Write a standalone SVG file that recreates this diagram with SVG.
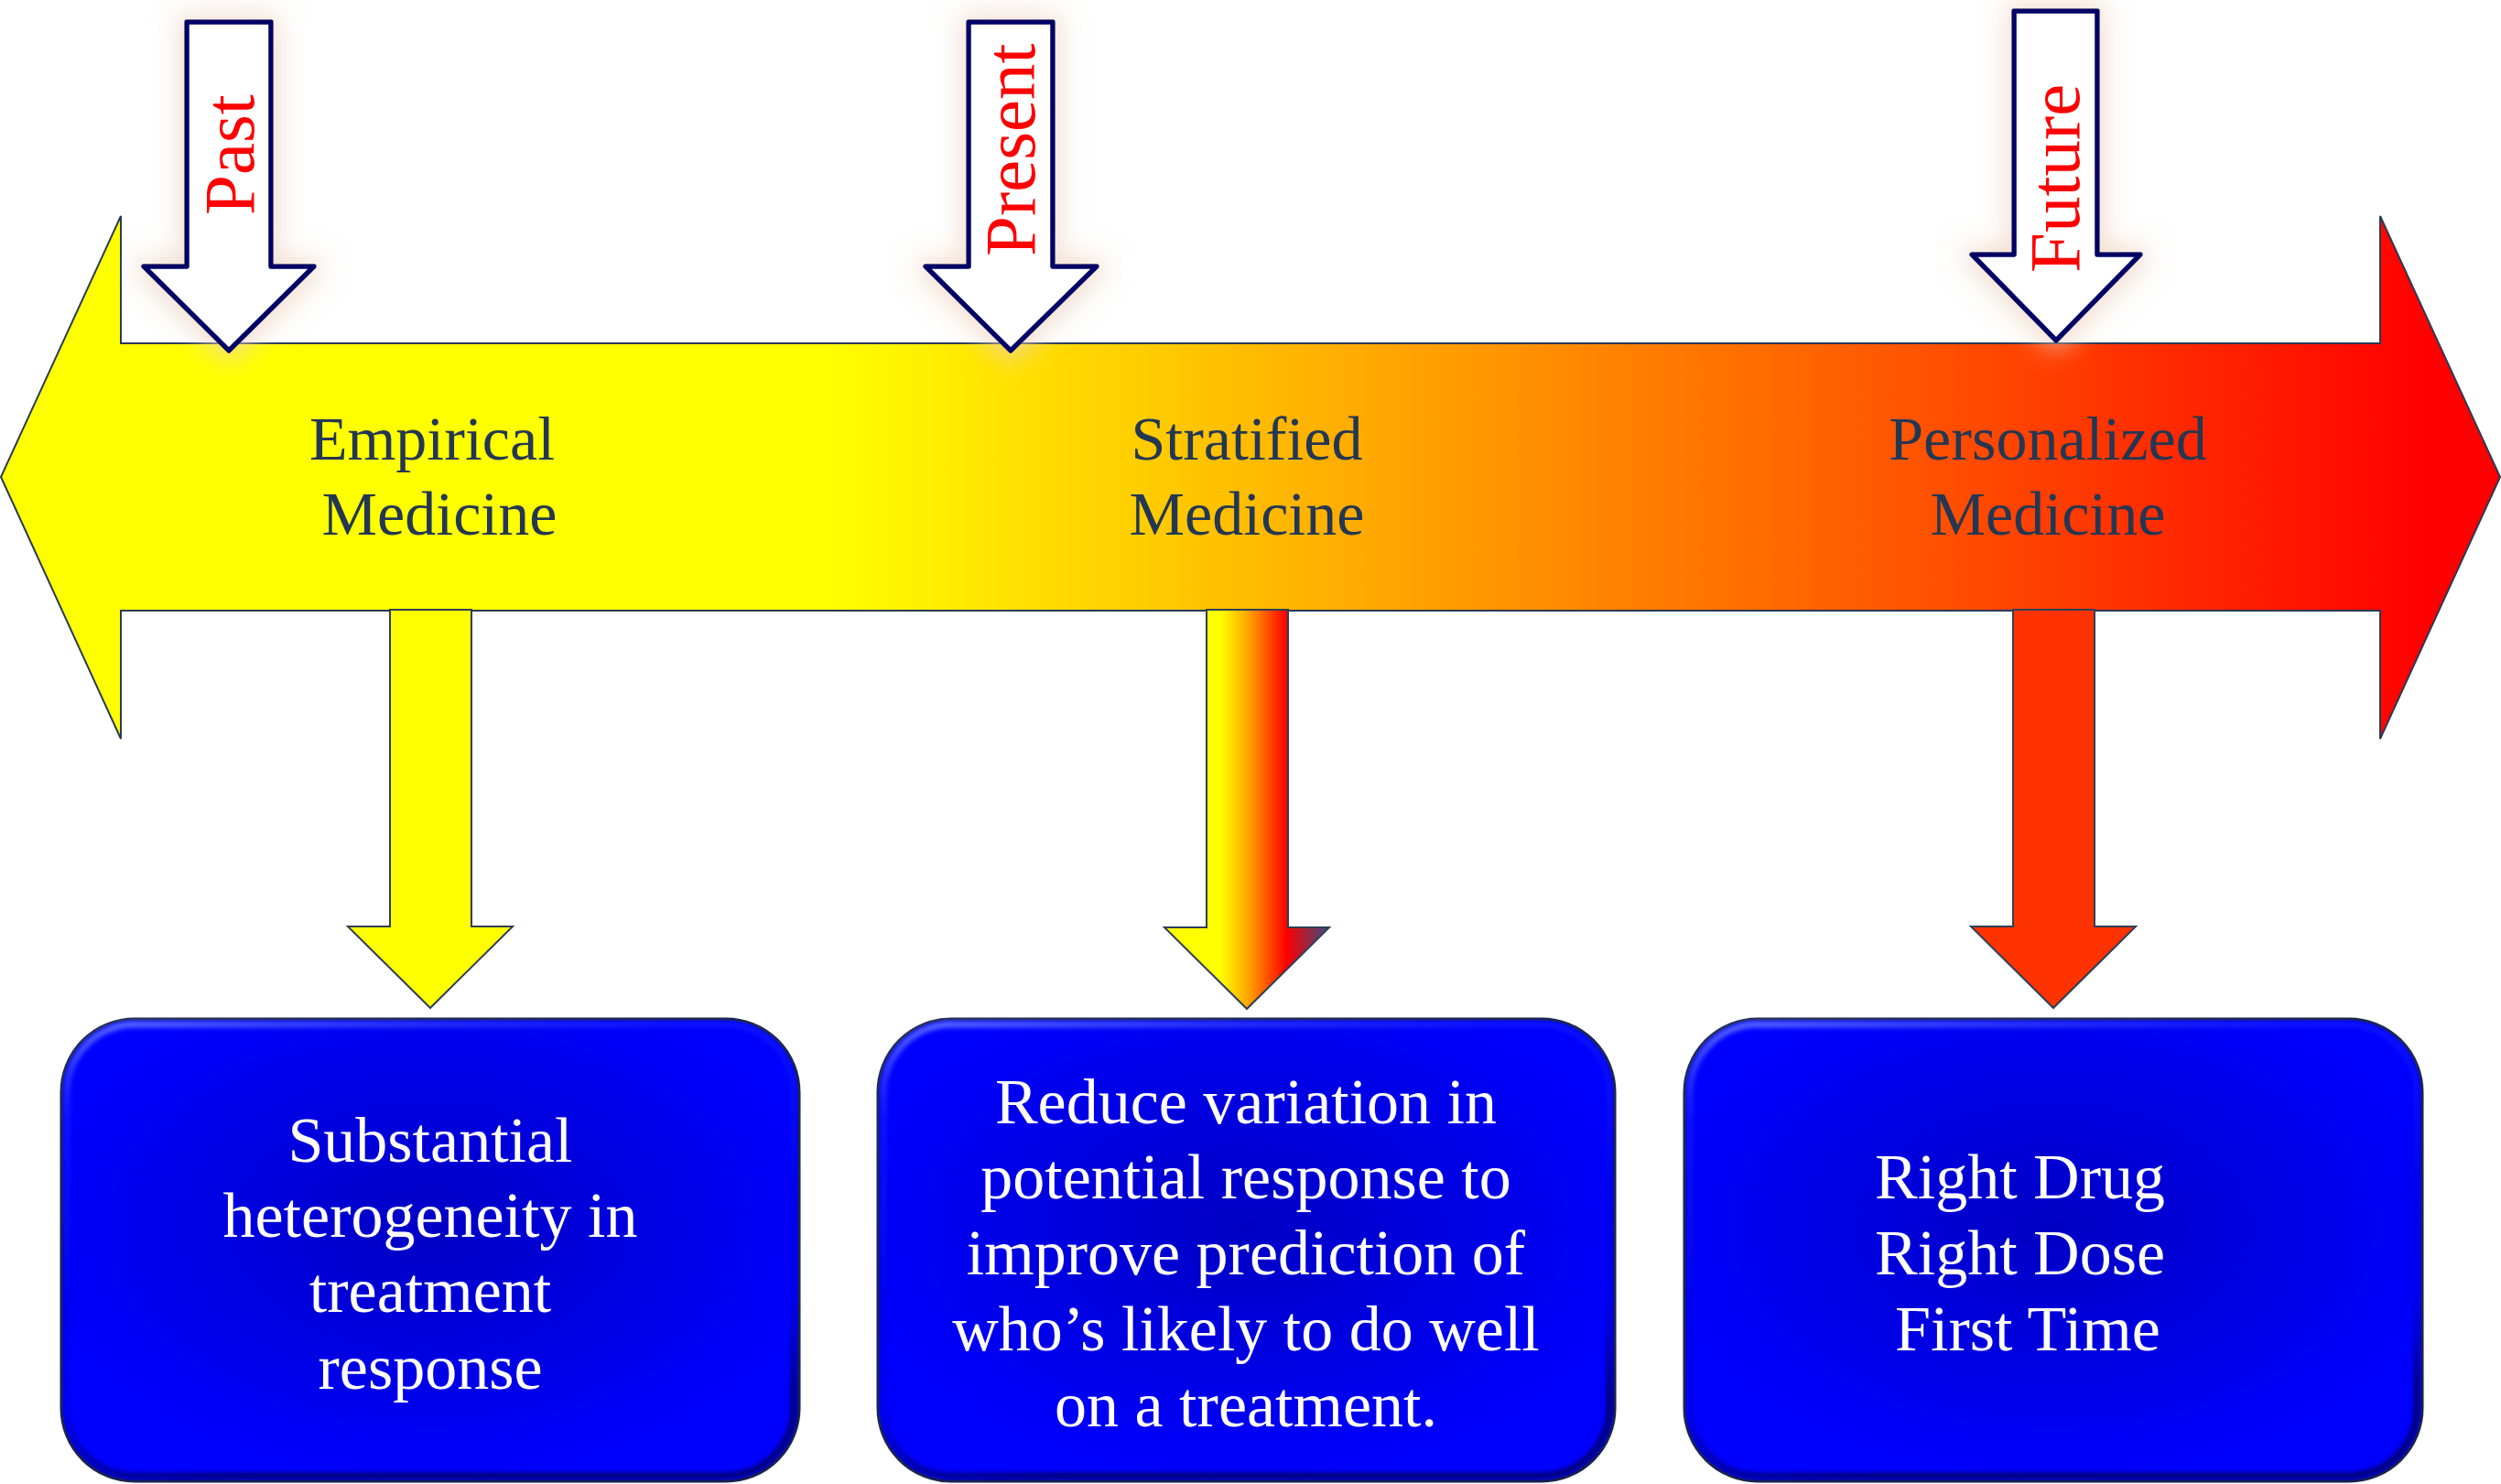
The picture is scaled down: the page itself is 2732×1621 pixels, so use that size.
<svg xmlns="http://www.w3.org/2000/svg" width="2732" height="1621" viewBox="0 0 2732 1621">
<defs>
<linearGradient id="gMain" gradientUnits="userSpaceOnUse" x1="0" y1="0" x2="2732" y2="0">
<stop offset="0" stop-color="#ffff00"/>
<stop offset="0.33" stop-color="#ffff00"/>
<stop offset="0.55" stop-color="#ffa800"/>
<stop offset="0.77" stop-color="#ff5200"/>
<stop offset="0.97" stop-color="#ff0000"/>
<stop offset="1" stop-color="#ff0000"/>
</linearGradient>
<linearGradient id="gMid" gradientUnits="userSpaceOnUse" x1="1272" y1="0" x2="1452" y2="0">
<stop offset="0" stop-color="#ffff00"/>
<stop offset="0.34" stop-color="#ffff00"/>
<stop offset="0.5" stop-color="#ffaa00"/>
<stop offset="0.74" stop-color="#ff0000"/>
<stop offset="1" stop-color="#3a4a80"/>
</linearGradient>
<radialGradient id="gBox" cx="0.5" cy="0.45" r="0.55">
<stop offset="0" stop-color="#0000c4"/>
<stop offset="0.6" stop-color="#0000e6"/>
<stop offset="1" stop-color="#0000ff"/>
</radialGradient>
<linearGradient id="gBevel" x1="0" y1="0" x2="0.25" y2="1">
<stop offset="0" stop-color="#7080ff" stop-opacity="0.9"/>
<stop offset="0.2" stop-color="#3040ff" stop-opacity="0.3"/>
<stop offset="0.8" stop-color="#000080" stop-opacity="0.15"/>
<stop offset="1" stop-color="#000050" stop-opacity="0.8"/>
</linearGradient>
<filter id="glow" x="-50%" y="-25%" width="200%" height="150%">
<feMorphology in="SourceAlpha" operator="dilate" radius="6" result="d"/>
<feGaussianBlur in="d" stdDeviation="14" result="b"/>
<feFlood flood-color="#ecd2bf" flood-opacity="0.7"/>
<feComposite in2="b" operator="in" result="g"/>
<feMerge><feMergeNode in="g"/><feMergeNode in="SourceGraphic"/></feMerge>
</filter>
<filter id="soft" x="-5%" y="-5%" width="110%" height="110%">
<feGaussianBlur stdDeviation="2.5"/>
</filter>
</defs>
<style>
.timeArrow{fill:#ffffff;stroke:#000066;stroke-width:5.5;stroke-linejoin:round}
.timeLbl{font-family:"Liberation Serif","Times New Roman",serif;font-size:79px;fill:#ff0000}
.lbl{font-family:"Liberation Serif","Times New Roman",serif;font-size:68px;fill:#243752;text-anchor:middle}
.boxTxt{font-family:"Liberation Serif","Times New Roman",serif;font-size:70px;fill:#ffffff;text-anchor:middle}
.box{fill:url(#gBox);stroke:#1b2550;stroke-width:3}
.bevel{fill:none;stroke:url(#gBevel);stroke-width:7}
.conn{stroke:#2f3f55;stroke-width:2;stroke-linejoin:miter}
</style>
<rect width="2732" height="1621" fill="#ffffff"/>

<g id="timeline">
<polygon points="1,521 132,236 132,375 2600,375 2600,236 2731,521 2600,807 2600,667 132,667 132,807" fill="url(#gMain)" stroke="#2a3a55" stroke-width="2"/>
<text class="lbl" x="472" y="502">Empirical</text>
<text class="lbl" x="480" y="584">Medicine</text>
<text class="lbl" x="1362" y="502">Stratified</text>
<text class="lbl" x="1362" y="584">Medicine</text>
<text class="lbl" x="2237" y="502">Personalized</text>
<text class="lbl" x="2237" y="584">Medicine</text>
</g>

<g id="past" filter="url(#glow)">
<polygon class="timeArrow" points="204,24 296,24 296,291 343,291 250,383 157,291 204,291"/>
<text class="timeLbl" x="277" y="235" transform="rotate(-90 277 235)">Past</text>
</g>
<g id="present" filter="url(#glow)">
<polygon class="timeArrow" points="1058,24 1150,24 1150,291 1198,291 1104,383 1011,291 1058,291"/>
<text class="timeLbl" x="1130" y="280" transform="rotate(-90 1130 280)">Present</text>
</g>
<g id="future" filter="url(#glow)">
<polygon class="timeArrow" points="2200,12 2291,12 2291,278 2338,278 2246,372 2154,278 2200,278"/>
<text class="timeLbl" x="2271" y="298" transform="rotate(-90 2271 298)">Future</text>
</g>

<g id="connectors">
<polygon class="conn" fill="#ffff00" points="426,666 515,666 515,1012 560,1012 470,1101 380,1012 426,1012"/>
<polygon class="conn" fill="url(#gMid)" points="1318,666 1407,666 1407,1013 1452,1013 1362,1102 1272,1013 1318,1013"/>
<polygon class="conn" fill="#ff3300" points="2199,666 2288,666 2288,1012 2333,1012 2243,1101 2153,1012 2199,1012"/>
</g>

<g id="box1">
<rect class="box" x="67" y="1113" width="806" height="505" rx="80" ry="80"/>
<rect class="bevel" x="73" y="1119" width="794" height="493" rx="74" ry="74" filter="url(#soft)"/>
<text class="boxTxt" x="470" y="1269">Substantial</text>
<text class="boxTxt" x="470" y="1351">heterogeneity in</text>
<text class="boxTxt" x="470" y="1433">treatment</text>
<text class="boxTxt" x="470" y="1517">response</text>
</g>
<g id="box2">
<rect class="box" x="959" y="1113" width="805" height="505" rx="80" ry="80"/>
<rect class="bevel" x="965" y="1119" width="793" height="493" rx="74" ry="74" filter="url(#soft)"/>
<text class="boxTxt" x="1361" y="1227">Reduce variation in</text>
<text class="boxTxt" x="1361" y="1309">potential response to</text>
<text class="boxTxt" x="1361" y="1392">improve prediction of</text>
<text class="boxTxt" x="1361" y="1475">who’s likely to do well</text>
<text class="boxTxt" x="1361" y="1558">on a treatment.</text>
</g>
<g id="box3">
<rect class="box" x="1840" y="1113" width="806" height="505" rx="80" ry="80"/>
<rect class="bevel" x="1846" y="1119" width="794" height="493" rx="74" ry="74" filter="url(#soft)"/>
<text class="boxTxt" x="2048" y="1309" style="text-anchor:start">Right Drug</text>
<text class="boxTxt" x="2048" y="1392" style="text-anchor:start">Right Dose</text>
<text class="boxTxt" x="2070" y="1475" style="text-anchor:start">First Time</text>
</g>
</svg>
